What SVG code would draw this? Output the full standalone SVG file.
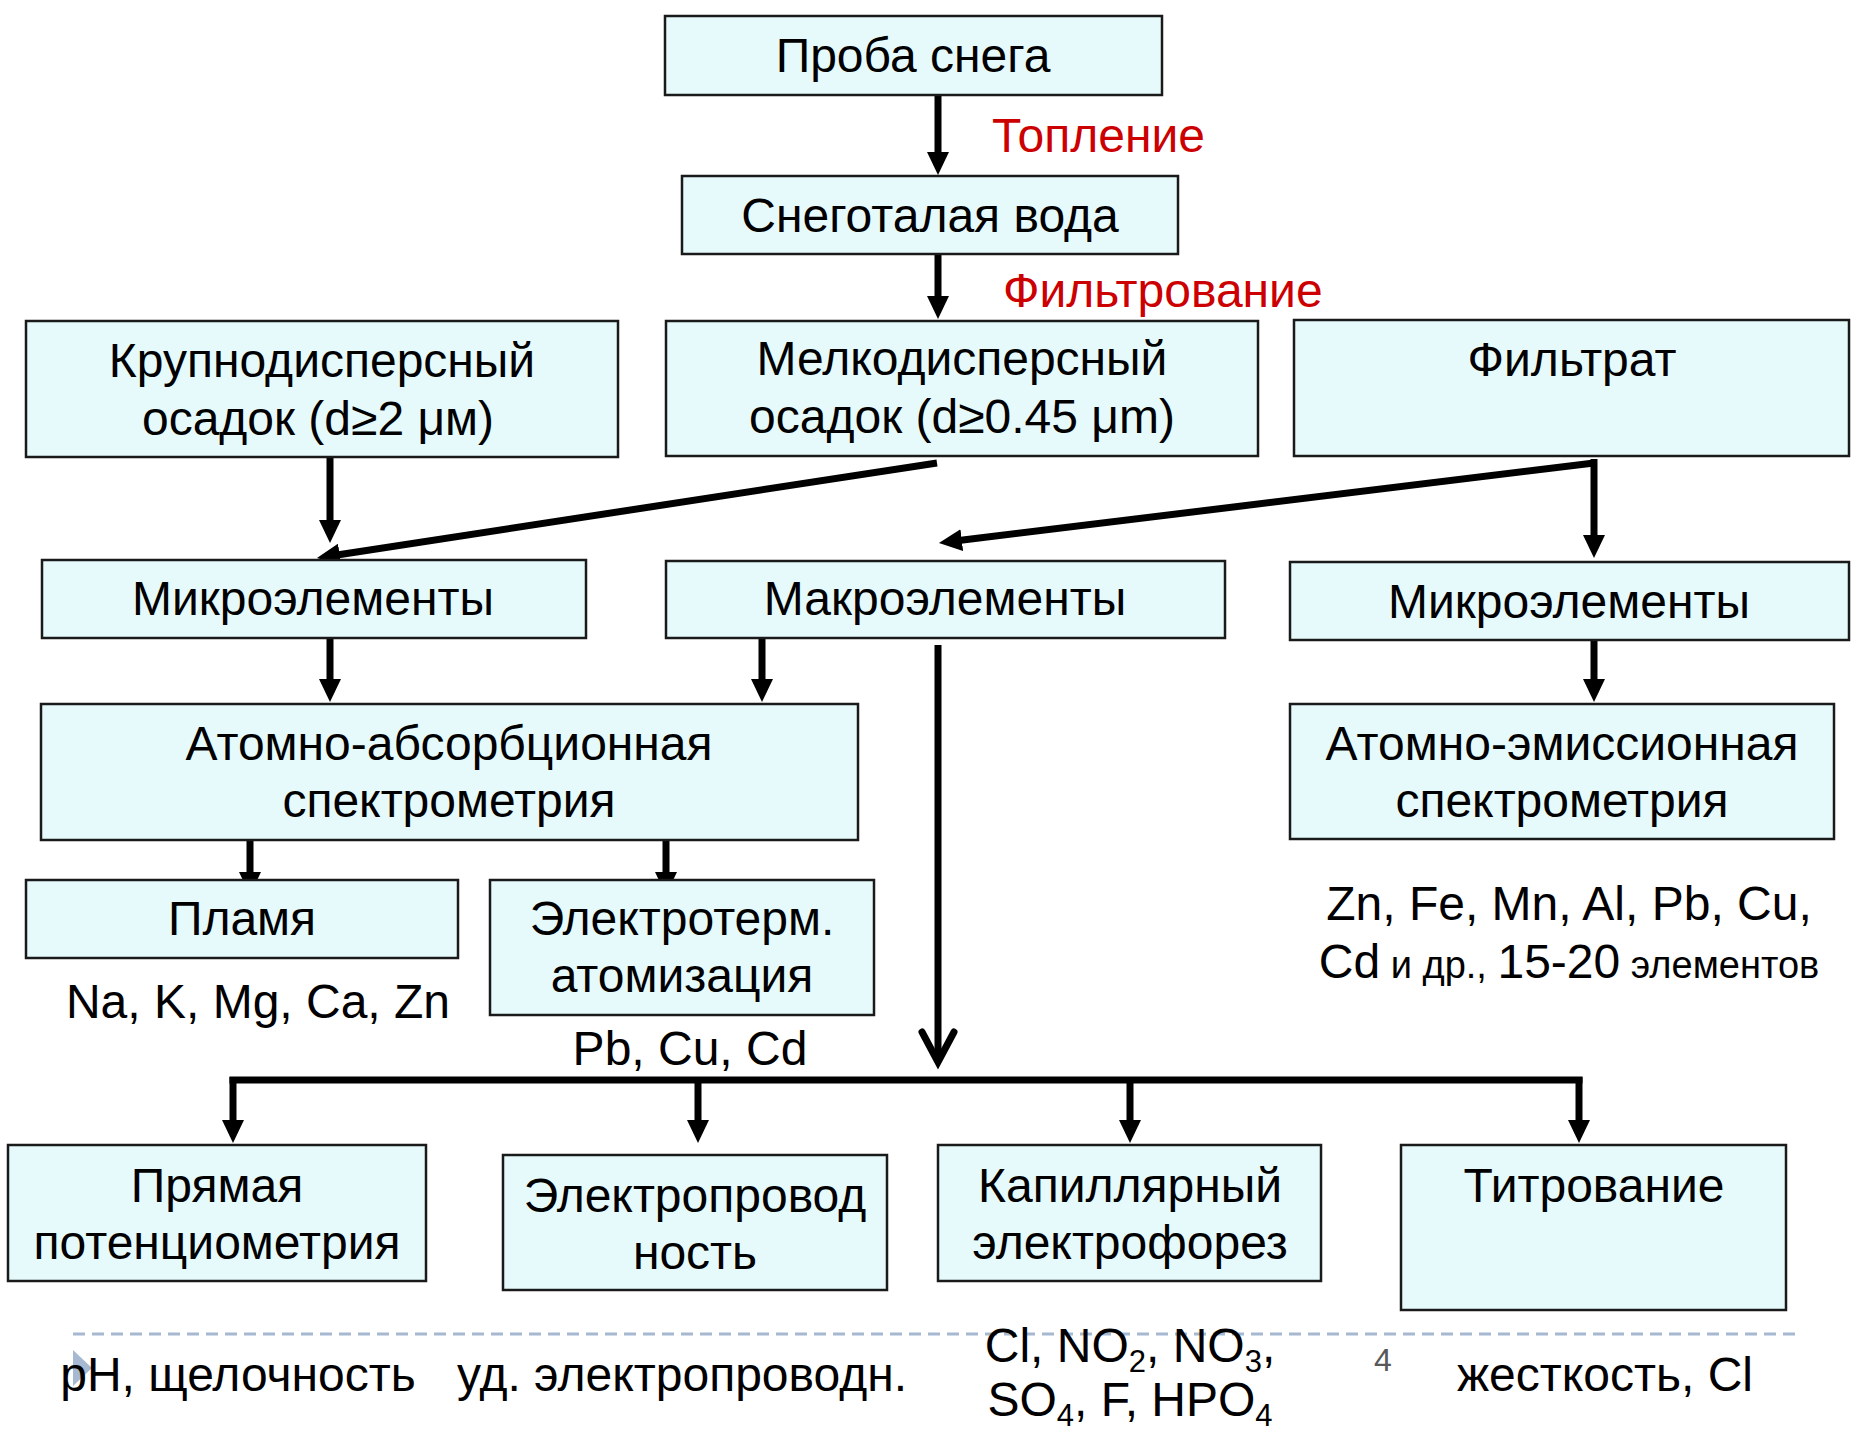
<svg xmlns="http://www.w3.org/2000/svg" width="1856" height="1430" viewBox="0 0 1856 1430">
<style>
  .box { fill: #E6FAFC; stroke: #1a1a1a; stroke-width: 2.5; }
  .t { font-family: "Liberation Sans", Arial, sans-serif; font-size: 48px; fill: #000; text-anchor: middle; }
  .red { font-family: "Liberation Sans", Arial, sans-serif; font-size: 48px; fill: #CC0000; }
  .sm { font-size: 38px; }
  .sub { font-size: 31px; }
  .ln { stroke: #000; stroke-width: 7; fill: none; }
  .arr { stroke: #000; stroke-width: 7; fill: none; marker-end: url(#ah); }
</style>
<defs>
  <marker id="ah" markerUnits="userSpaceOnUse" viewBox="0 0 23 22" markerWidth="23" markerHeight="22" refX="1" refY="11" orient="auto">
    <path d="M0,0 L23,11 L0,22 z" fill="#000"/>
  </marker>
</defs>
<rect width="1856" height="1430" fill="#fff"/>

<!-- slide decoration -->
<line x1="73" y1="1334" x2="1802" y2="1334" stroke="#A6B9D1" stroke-width="3" stroke-dasharray="12 7"/>
<polygon points="73,1350 92,1368 73,1386" fill="#A6B9D1"/>
<text x="1383" y="1371" font-family="Liberation Sans, Arial, sans-serif" font-size="32" fill="#595959" text-anchor="middle">4</text>

<g id="connectors">
  <line class="arr" x1="938" y1="95" x2="938" y2="153"/>
  <line class="arr" x1="938" y1="255" x2="938" y2="297"/>
  <line class="arr" x1="330" y1="448" x2="330" y2="521"/>
  <line class="arr" x1="937" y1="463" x2="338.7" y2="554.7"/>
  <line class="arr" x1="1594" y1="463" x2="960.8" y2="540.3"/>
  <line class="arr" x1="1594" y1="459" x2="1594" y2="536"/>
  <line class="arr" x1="330" y1="638" x2="330" y2="680"/>
  <line class="arr" x1="762" y1="638" x2="762" y2="680"/>
  <line class="arr" x1="1594" y1="640" x2="1594" y2="680"/>
  <line class="arr" x1="250" y1="832" x2="250" y2="873"/>
  <line class="arr" x1="666" y1="832" x2="666" y2="873"/>
  <line class="ln" x1="938" y1="645" x2="938" y2="1058"/>
  <polyline class="ln" points="922,1032 938,1062 954,1032" stroke-linecap="round" stroke-linejoin="miter"/>
  <line class="ln" x1="229.5" y1="1080" x2="1582.5" y2="1080" stroke-width="8"/>
  <line class="arr" x1="233" y1="1077" x2="233" y2="1121"/>
  <line class="arr" x1="698" y1="1080" x2="698" y2="1121"/>
  <line class="arr" x1="1130" y1="1080" x2="1130" y2="1121"/>
  <line class="arr" x1="1579" y1="1077" x2="1579" y2="1121"/>
</g>

<g id="n-proba"><rect class="box" x="665" y="16" width="497" height="79"/><text class="t" x="913" y="72">Проба снега</text></g>
<g id="n-talaya"><rect class="box" x="682" y="176" width="496" height="78"/><text class="t" x="930" y="232">Снеготалая вода</text></g>
<text id="lbl-toplenie" class="red" x="992" y="152">Топление</text>
<text id="lbl-filtr" class="red" x="1003" y="307">Фильтрование</text>

<g id="n-krupno"><rect class="box" x="26" y="321" width="592" height="136"/>
  <text class="t" x="322" y="377">Крупнодисперсный</text>
  <text class="t" x="318" y="435">осадок (d≥2 μм)</text></g>
<g id="n-melko"><rect class="box" x="666" y="321" width="592" height="135"/>
  <text class="t" x="962" y="375">Мелкодисперсный</text>
  <text class="t" x="962" y="433">осадок (d≥0.45 μm)</text></g>
<g id="n-filtrat"><rect class="box" x="1294" y="320" width="555" height="136"/>
  <text class="t" x="1572" y="376">Фильтрат</text></g>

<g id="n-micro-l"><rect class="box" x="42" y="560" width="544" height="78"/><text class="t" x="313" y="615">Микроэлементы</text></g>
<g id="n-macro"><rect class="box" x="666" y="561" width="559" height="77"/><text class="t" x="945" y="615">Макроэлементы</text></g>
<g id="n-micro-r"><rect class="box" x="1290" y="562" width="559" height="78"/><text class="t" x="1569" y="618">Микроэлементы</text></g>

<g id="n-aas"><rect class="box" x="41" y="704" width="817" height="136"/>
  <text class="t" x="449" y="760">Атомно-абсорбционная</text>
  <text class="t" x="449" y="817">спектрометрия</text></g>
<g id="n-aes"><rect class="box" x="1290" y="704" width="544" height="135"/>
  <text class="t" x="1562" y="760">Атомно-эмиссионная</text>
  <text class="t" x="1562" y="817">спектрометрия</text></g>
<text class="t" x="1569" y="920">Zn, Fe, Mn, Al, Pb, Cu,</text>
<text class="t" x="1569" y="978">Cd<tspan class="sm"> и др., </tspan>15-20<tspan class="sm"> элементов</tspan></text>

<g id="n-plamya"><rect class="box" x="26" y="880" width="432" height="78"/><text class="t" x="242" y="935">Пламя</text></g>
<g id="n-electroterm"><rect class="box" x="490" y="880" width="384" height="135"/>
  <text class="t" x="682" y="935">Электротерм.</text>
  <text class="t" x="682" y="992">атомизация</text></g>
<text class="t" x="258" y="1018">Na, K, Mg, Ca, Zn</text>
<text class="t" x="690" y="1065">Pb, Cu, Cd</text>

<g id="n-pryamaya"><rect class="box" x="8" y="1145" width="418" height="136"/>
  <text class="t" x="217" y="1202">Прямая</text>
  <text class="t" x="217" y="1259">потенциометрия</text></g>
<g id="n-electroprov"><rect class="box" x="503" y="1155" width="384" height="135"/>
  <text class="t" x="695" y="1212">Электропровод</text>
  <text class="t" x="695" y="1269">ность</text></g>
<g id="n-kapill"><rect class="box" x="938" y="1145" width="383" height="136"/>
  <text class="t" x="1130" y="1202">Капиллярный</text>
  <text class="t" x="1130" y="1259">электрофорез</text></g>
<g id="n-titr"><rect class="box" x="1401" y="1145" width="385" height="165"/>
  <text class="t" x="1594" y="1202">Титрование</text></g>

<text class="t" x="238" y="1391">pH, щелочность</text>
<text class="t" x="682" y="1391">уд. электропроводн.</text>
<text class="t" x="1130" y="1362">Cl, NO<tspan class="sub" dy="10">2</tspan><tspan dy="-10">, NO</tspan><tspan class="sub" dy="10">3</tspan><tspan dy="-10">,</tspan></text>
<text class="t" x="1130" y="1416">SO<tspan class="sub" dy="10">4</tspan><tspan dy="-10">, F, HPO</tspan><tspan class="sub" dy="10">4</tspan></text>
<text class="t" x="1605" y="1391">жесткость, Cl</text>
</svg>
